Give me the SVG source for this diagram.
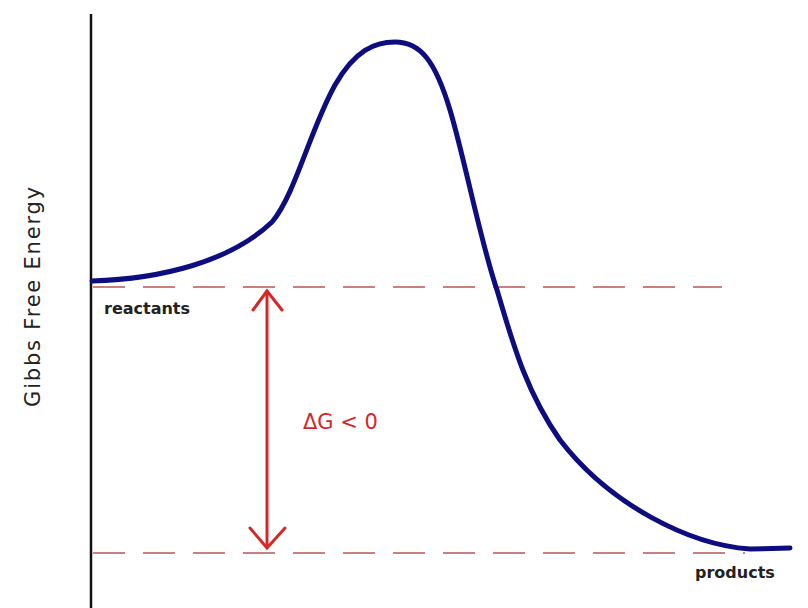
<svg xmlns="http://www.w3.org/2000/svg" width="808" height="608" viewBox="0 0 808 608">
<style>
.dash{stroke:#c98080;stroke-width:2.2;stroke-dasharray:32 18;fill:none}
.lbl{font-family:"DejaVu Sans",sans-serif;font-weight:bold;font-size:16px;fill:#222}
</style>
<rect width="808" height="608" fill="#fff"/>
<g id="axis"><line x1="91" y1="14" x2="91" y2="608" stroke="#111" stroke-width="2.5"/></g>
<g id="ylabel"><text transform="translate(40,296) rotate(-90)" text-anchor="middle" font-family="DejaVu Sans,sans-serif" font-size="21" letter-spacing="1.8" fill="#222">Gibbs Free Energy</text></g>
<g id="levels">
<line class="dash" x1="93" y1="287" x2="722" y2="287"/>
<line class="dash" x1="93" y1="553" x2="745" y2="553"/>
</g>
<g id="curve"><path d="M92,281 C160,279 230,262 272,222 C295,195 310,130 335,85 C355,50 375,42 395,42 C420,42 435,60 450,110 C465,160 480,240 497,290 C512,340 525,390 560,440 C610,505 690,545 750,549 L790,548" fill="none" stroke="#0d0d80" stroke-width="5" stroke-linecap="round" stroke-linejoin="round"/></g>
<g id="arrow" stroke="#d42828" stroke-width="3" fill="none" stroke-linecap="round">
<line x1="267" y1="291" x2="267" y2="547"/>
<polyline points="253,310 267,291 282,310"/>
<polyline points="250,528 267,548 285,528"/>
</g>
<g id="texts">
<text class="lbl" x="104" y="314">reactants</text>
<text class="lbl" x="695" y="578">products</text>
<text x="303" y="429" font-family="DejaVu Sans,sans-serif" font-size="21" fill="#d42828">ΔG &lt; 0</text>
</g>
</svg>
